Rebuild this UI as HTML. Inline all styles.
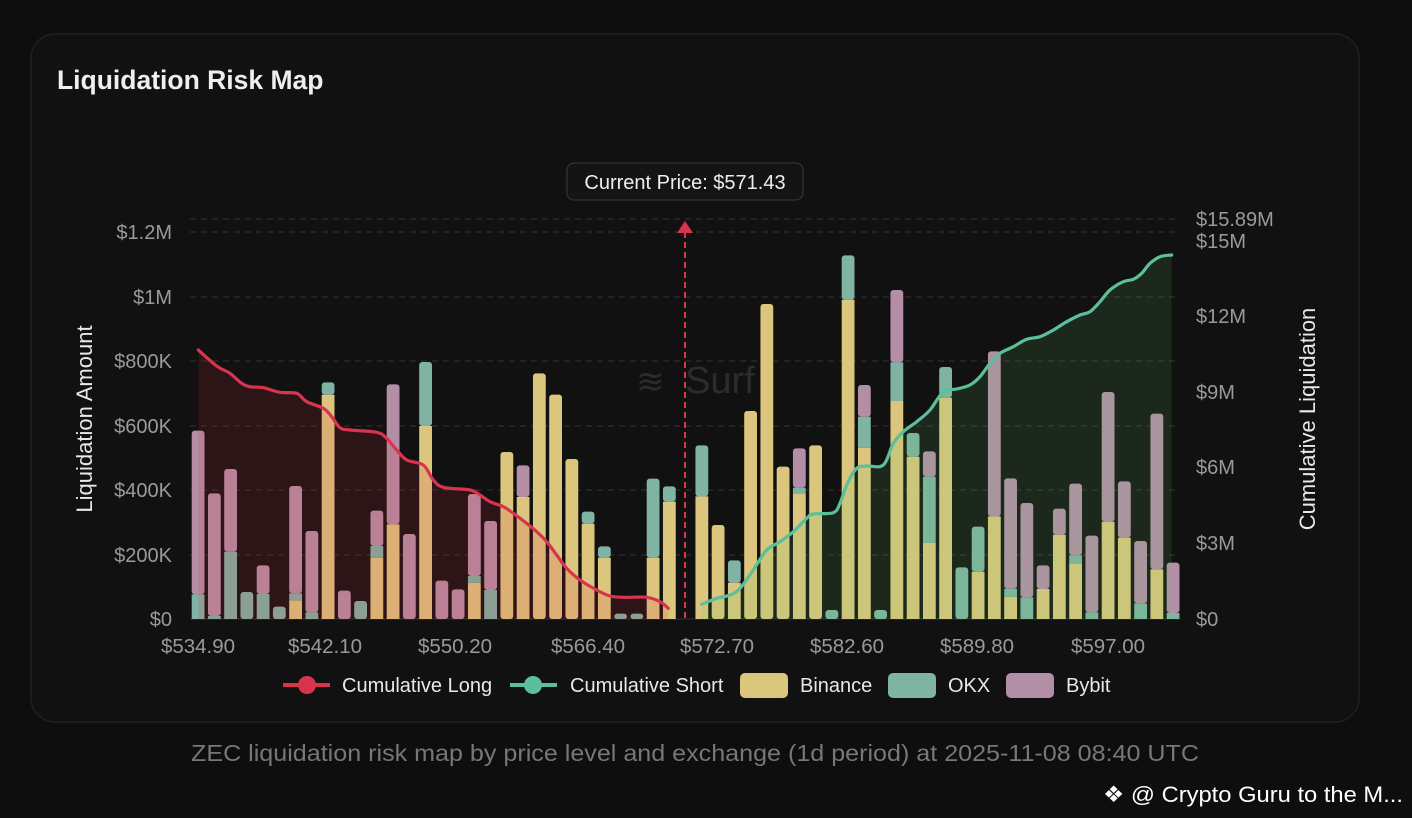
<!DOCTYPE html>
<html><head><meta charset="utf-8"><style>
body{margin:0;background:#0e0e0e;width:1412px;height:818px;overflow:hidden;font-family:"Liberation Sans",sans-serif;}
svg{position:absolute;left:0;top:0}
</style></head><body>
<svg id="s" width="1412" height="818" xmlns="http://www.w3.org/2000/svg">
<rect x="31" y="34" width="1328" height="688" rx="24" fill="#111111" stroke="#202020" stroke-width="1.5"/>
<text x="57" y="89" fill="#efefef" font-size="26.5" font-weight="bold" font-family="Liberation Sans,sans-serif">Liquidation Risk Map</text>
<g id="grid" stroke="#333" stroke-width="1" stroke-dasharray="6,5"></g>
<g id="bars"></g>
<g id="areas"></g>
<g font-size="20" fill="#9a9a9a" text-anchor="end">
<text x="172" y="239">$1.2M</text><text x="172" y="304">$1M</text><text x="172" y="368">$800K</text>
<text x="172" y="433">$600K</text><text x="172" y="497">$400K</text><text x="172" y="562">$200K</text><text x="172" y="626">$0</text>
</g>
<g font-size="20" fill="#9a9a9a">
<text x="1196" y="226">$15.89M</text><text x="1196" y="248">$15M</text><text x="1196" y="323">$12M</text>
<text x="1196" y="399">$9M</text><text x="1196" y="474">$6M</text><text x="1196" y="550">$3M</text><text x="1196" y="626">$0</text>
</g>
<g font-size="20.5" fill="#9a9a9a" text-anchor="middle">
<text x="198" y="653">$534.90</text><text x="325" y="653">$542.10</text><text x="455" y="653">$550.20</text>
<text x="588" y="653">$566.40</text><text x="717" y="653">$572.70</text><text x="847" y="653">$582.60</text>
<text x="977" y="653">$589.80</text><text x="1108" y="653">$597.00</text>
</g>
<text transform="translate(92,419) rotate(-90)" text-anchor="middle" font-size="22" fill="#e8e8e8">Liquidation Amount</text>
<text transform="translate(1315,419) rotate(-90)" text-anchor="middle" font-size="22" fill="#e8e8e8">Cumulative Liquidation</text>
<text x="685" y="393" font-size="38" fill="#2c2c2c">Surf</text>
<text x="636" y="393" font-size="34" fill="#2c2c2c">≋</text>
<line x1="685" y1="232" x2="685" y2="619" stroke="#d9344e" stroke-width="2" stroke-dasharray="6,4"/>
<path d="M677 233 L685 221 L693 233 Z" fill="#d9344e"/>
<rect x="567" y="163" width="236" height="37" rx="7" fill="#141414" stroke="#3a3a3a"/>
<text x="685" y="189" text-anchor="middle" font-size="20" fill="#eee">Current Price: $571.43</text>
<g font-size="20" fill="#e8e8e8">
<line x1="283" y1="685" x2="330" y2="685" stroke="#d9344e" stroke-width="4"/><circle cx="307" cy="685" r="9" fill="#d9344e"/>
<text x="342" y="692">Cumulative Long</text>
<line x1="510" y1="685" x2="557" y2="685" stroke="#5bbf9c" stroke-width="4"/><circle cx="533" cy="685" r="9" fill="#5bbf9c"/>
<text x="570" y="692">Cumulative Short</text>
<rect x="740" y="673" width="48" height="25" rx="5" fill="#dcc67e"/><text x="800" y="692">Binance</text>
<rect x="888" y="673" width="48" height="25" rx="5" fill="#7fb3a3"/><text x="948" y="692">OKX</text>
<rect x="1006" y="673" width="48" height="25" rx="5" fill="#b48ea6"/><text x="1066" y="692">Bybit</text>
</g>
<text x="695" y="761" text-anchor="middle" font-size="23.5" fill="#777" textLength="1008" lengthAdjust="spacingAndGlyphs">ZEC liquidation risk map by price level and exchange (1d period) at 2025-11-08 08:40 UTC</text>
<text x="1103" y="802" font-size="22.5" fill="#fff" textLength="300" lengthAdjust="spacingAndGlyphs">❖ @ Crypto Guru to the M...</text>
</svg>
<script>
const NS="http://www.w3.org/2000/svg";
function el(p,t,a){const e=document.createElementNS(NS,t);for(const k in a)e.setAttribute(k,a[k]);p.appendChild(e);return e;}
const grid=document.getElementById('grid');
[219,232,297,361,426,490,555].forEach(y=>el(grid,'line',{x1:190,x2:1180,y1:y,y2:y}));
el(grid,'line',{x1:190,x2:1180,y1:619,y2:619,'stroke-dasharray':'none',stroke:'#333'});
const C={Bn:'#dcc67e',O:'#7fb3a3',B:'#b48ea6'};
const L=[[['O',1063],['B',572]],[['O',1128],['B',760]],[['O',935],['B',687]],[['O',1056]],[['O',1062],['B',976]],[['O',1100]],
[['Bn',1081],['O',1060],['B',738]],[['O',1117],['B',873]],[['Bn',464],['O',427]],[['B',1052]],[['O',1083]],
[['Bn',953],['O',918],['B',812]],[['Bn',853],['B',433]],[['B',882]],[['Bn',558],['O',366]],[['B',1022]],[['B',1048]],
[['Bn',1028],['O',1008],['B',762]],[['O',1050],['B',843]],[['Bn',636]],[['Bn',771],['B',676]],[['Bn',400]],[['Bn',464]],
[['Bn',657]],[['Bn',851],['O',815]],[['Bn',953],['O',919]],[['O',1121]],[['O',1121]],[['Bn',953],['O',716]],[['Bn',785],['O',739]]];
const R=[[['Bn',769],['O',616]],[['Bn',855]],[['Bn',1028],['O',961]],[['Bn',513]],[['Bn',192]],[['Bn',680]],
[['Bn',760],['O',743],['B',625]],[['Bn',616]],[['O',1110]],[['Bn',179],['O',46]],[['Bn',623],['O',530],['B',435]],[['O',1110]],
[['Bn',483],['O',367],['B',150]],[['Bn',650],['O',579]],[['Bn',908],['O',710],['B',634]],[['Bn',473],['O',381]],[['O',982]],
[['Bn',995],['O',860]],[['Bn',829],['B',334]],[['Bn',1070],['O',1046],['B',715]],[['O',1072],['B',789]],[['Bn',1047],['B',976]],
[['Bn',884],['B',806]],[['Bn',972],['O',946],['B',731]],[['O',1117],['B',887]],[['Bn',845],['B',456]],[['Bn',893],['B',724]],
[['O',1090],['B',903]],[['Bn',988],['B',521]],[['O',1119],['B',968]]];
const bars=document.getElementById('bars');
function draw(i,segs){const x=191.7+i*16.25;let bot=619;segs.forEach(([c,z],k)=>{const top=240+z/3;
 el(bars,'rect',{x:x,y:top,width:12.8,height:Math.max(bot-top,0.5),fill:C[c],rx:(k==segs.length-1?3:0)});bot=top;});}
L.forEach((s,i)=>draw(i,s));R.forEach((s,i)=>draw(i+31,s));
const rp=[[55,330],[110,378],[150,400],[185,430],[210,440],[250,443],[300,457],[350,460],[380,485],[430,505],[455,530],[480,563],[510,570],[590,577],[620,595],[650,630],[680,660],[730,675],[760,720],[790,742],[870,750],[900,765],[930,785],[970,800],[1000,820],[1040,850],[1070,875],[1100,905],[1130,945],[1160,985],[1200,1020],[1250,1050],[1290,1068],[1330,1072],[1400,1072],[1440,1085],[1465,1105]].map(p=>[180+p[0]/3,240+p[1]/3]);
const gp=[[65,1093],[110,1075],[150,1065],[180,1045],[220,990],[260,930],[300,905],[340,875],[380,835],[400,822],[460,818],[480,790],[500,735],[530,685],[560,678],[610,675],[640,610],[670,575],[710,545],[750,510],[790,455],[830,447],[870,435],[900,410],[930,370],[960,340],[1000,320],[1040,298],[1080,290],[1120,270],[1160,245],[1200,225],[1230,215],[1260,185],[1290,150],[1330,125],[1360,118],[1385,100],[1410,70],[1440,50],[1475,45]].map(p=>[680+p[0]/3,240+p[1]/3]);
function smooth(P){let d='M'+P[0][0].toFixed(1)+' '+P[0][1].toFixed(1);
 for(let i=0;i<P.length-1;i++){const p0=P[Math.max(i-1,0)],p1=P[i],p2=P[i+1],p3=P[Math.min(i+2,P.length-1)];
 const c1=[p1[0]+(p2[0]-p0[0])/6,p1[1]+(p2[1]-p0[1])/6],c2=[p2[0]-(p3[0]-p1[0])/6,p2[1]-(p3[1]-p1[1])/6];
 d+=' C'+c1[0].toFixed(1)+' '+c1[1].toFixed(1)+' '+c2[0].toFixed(1)+' '+c2[1].toFixed(1)+' '+p2[0].toFixed(1)+' '+p2[1].toFixed(1);}return d;}
const A=document.getElementById('areas');
function series(pts,col,fill){const d=smooth(pts);const n=pts.length-1;
 el(A,'path',{d:d+' L'+pts[n][0]+' 619 L'+pts[0][0]+' 619 Z',fill:fill});
 el(A,'path',{d:d,fill:'none',stroke:col,'stroke-width':3.2,'stroke-linejoin':'round','stroke-linecap':'round'});}
series(rp,'#d9344e','rgba(220,40,60,0.14)');
series(gp,'#5bbf9c','rgba(100,200,100,0.13)');
</script>
</body></html>
